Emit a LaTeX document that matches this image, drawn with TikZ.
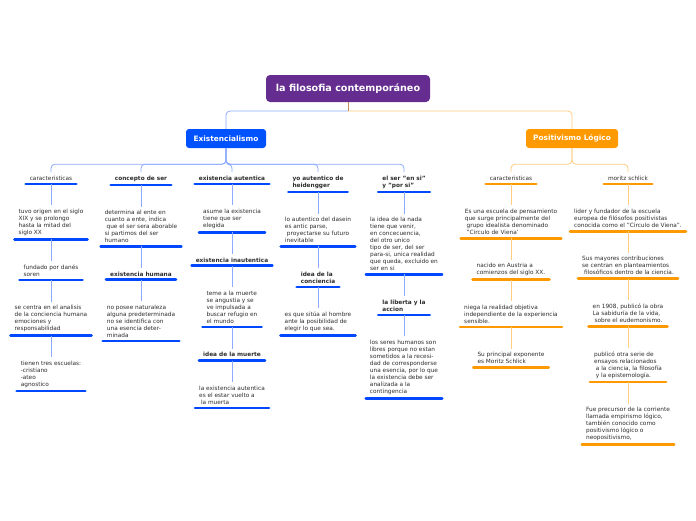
\documentclass[tikz,border=0pt]{standalone}
\usepackage{fontspec}
\setmainfont{DejaVu Sans}
\usetikzlibrary{positioning}
\definecolor{rootpurple}{RGB}{102,45,145}
\definecolor{exblue}{RGB}{0,82,255}
\definecolor{barblue}{RGB}{0,72,255}
\definecolor{linkblue}{RGB}{140,170,255}
\definecolor{poorange}{RGB}{255,153,0}
\definecolor{linkorange}{RGB}{255,204,128}
\definecolor{stubbrown}{RGB}{196,140,90}
\definecolor{textgray}{RGB}{45,45,45}
\newcommand{\itemfont}{\fontsize{5.8}{7}\selectfont}

\begin{document}
\begin{tikzpicture}[x=1pt,y=-1pt,node distance=21.5pt,
  rootbox/.style={fill=rootpurple,rounded corners=4pt,text=white,
    font=\fontsize{9.6}{11}\selectfont\bfseries,minimum width=164pt,minimum height=27pt},
  mainbox/.style={rounded corners=3pt,text=white,
    font=\fontsize{7.4}{8}\selectfont\bfseries,minimum height=19pt},
  item/.style={font=\itemfont,align=left,text=textgray,inner xsep=4pt,inner ysep=3.5pt},
  bitem/.style={item,append after command={(\tikzlastnode.south west)
    edge[draw=barblue,line width=2.6pt,line cap=round] (\tikzlastnode.south east)}},
  oitem/.style={item,append after command={(\tikzlastnode.south west)
    edge[draw=poorange,line width=2.6pt,line cap=round] (\tikzlastnode.south east)}},
  blink/.style={draw=linkblue,line width=0.8pt,rounded corners=4pt},
  olink/.style={draw=linkorange,line width=0.8pt,rounded corners=4pt}]
\useasboundingbox (0,0) rectangle (696,520);

% top level
\node[rootbox] (root) at (348,88.5) {la filosofia contemporáneo};
\node[mainbox,fill=exblue,minimum width=80pt] (exist) at (226,138.5) {Existencialismo};
\node[mainbox,fill=poorange,minimum width=92pt] (posit) at (572,138.5) {Positivismo Lógico};
\coordinate (fork) at (348,111);
\draw[blink] (fork) -| (exist.north);
\draw[olink] (fork) -| (posit.north);
\draw[draw=stubbrown,line width=0.8pt] (root.south) -- (fork);

% Existencialismo
\node[bitem,anchor=north] (bcar) at (51,172) {caracteristicas};
\node[bitem,below=of bcar] (b1a) {tuvo origen en el siglo\\XIX y se prolongo\\hasta la mitad del\\siglo XX};
\node[bitem,below=of b1a] (b1b) {fundado por danés\\soren};
\node[bitem,below=of b1b] (b1c) {se centra en el analisis\\de la conciencia humana\\emociones y\\responsabilidad};
\node[bitem,below=of b1c] (b1d) {tienen tres escuelas:\\-cristiano\\-ateo\\agnostico};

\node[bitem,anchor=north,font=\itemfont\bfseries] (bcon) at (141,172) {concepto de ser};
\node[bitem,below=of bcon] (b2a) {determina al ente en\\cuanto a ente, indica\\\ que el ser sera aborable\\si partimos del ser\\humano};
\node[bitem,below=of b2a,font=\itemfont\bfseries] (b2b) {existencia humana};
\node[bitem,below=of b2b] (b2c) {no posee naturaleza\\alguna predeterminada\\no se identifica con\\una esencia deter-\\minada};

\node[bitem,anchor=north,font=\itemfont\bfseries] (baut) at (232,172) {existencia autentica};
\node[bitem,below=of baut] (b3a) {asume la existencia\\tiene que ser\\elegida};
\node[bitem,below=of b3a,font=\itemfont\bfseries] (b3b) {existencia inautentica};
\node[bitem,below=of b3b] (b3c) {teme a la muerte\\se angustia y se\\ve impulsada a\\buscar refugio en\\el mundo};
\node[bitem,below=of b3c,font=\itemfont\bfseries] (b3d) {idea de la muerte};
\node[bitem,below=of b3d] (b3e) {la existencia autentica\\es el estar vuelto a\\\ la muerta};

\node[bitem,anchor=north,font=\itemfont\bfseries] (byo) at (318,172) {yo autentico de\\heidengger};
\node[bitem,below=of byo] (b4a) {lo autentico del dasein\\es antic parse,\\\ proyectarse su futuro\\inevitable};
\node[bitem,below=of b4a,font=\itemfont\bfseries] (b4b) {idea de la\\conciencia};
\node[bitem,below=of b4b] (b4c) {es que sitúa al hombre\\ante la posibilidad de\\elegir lo que sea.};

\node[bitem,anchor=north,font=\itemfont\bfseries] (bser) at (404,172) {el ser "en si"\\y "por si"};
\node[bitem,below=of bser] (b5a) {la idea de la nada\\tiene que venir,\\en concecuencia,\\del otro unico\\tipo de ser, del ser\\para-si, unica realidad\\que queda, excluido en\\ser en si};
\node[bitem,below=of b5a,font=\itemfont\bfseries] (b5b) {la liberta y la\\accion};
\node[bitem,below=of b5b] (b5c) {los seres humanos son\\libres porque no estan\\sometidos a la recesi-\\dad de corresponderse\\una esencia, por lo que\\la existencia debe ser\\analizada a la\\contingencia};

% Positivismo
\node[oitem,anchor=north] (ocar) at (511,172) {caracteristicas};
\node[oitem,below=of ocar] (o1a) {Es una escuela de pensamiento\\que surge principalmente del\\\ grupo idealista denominado\\\ "Circulo de Viena'};
\node[oitem,below=of o1a] (o1b) {nacido en Austria a\\comienzos del siglo XX.};
\node[oitem,below=of o1b] (o1c) {niega la realidad objetiva\\independiente de la experiencia\\sensible.};
\node[oitem,below=of o1c] (o1d) {Su principal exponente\\es Moritz Schlick};

\node[oitem,anchor=north] (omor) at (628,172) {moritz schlick};
\node[oitem,below=of omor] (o2a) {lider y fundador de la escuela\\europea de filósofos positivistas\\conocida como el "Circulo de Viena".};
\node[oitem,below=of o2a] (o2b) {Sus mayores contribuciones\\se centran en planteamientos\\\ filosóficos dentro de la ciencia.};
\node[oitem,below=of o2b] (o2c) {en 1908, publicó la obra\\La sabiduría de la vida,\\\ sobre el eudemonismo.};
\node[oitem,below=of o2c] (o2d) {publicó otra serie de\\ensayos relacionados\\\ a la ciencia, la filosofía\\\ y la epistemología.};
\node[oitem,below=of o2d] (o2e) {Fue precursor de la corriente\\llamada empirismo lógico,\\también conocido como\\positivismo lógico o\\neopositivismo,};

% connectors
\foreach \t in {bcar,bcon,baut,byo,bser}
  \draw[blink] (exist.south) -- ++(0,16) -| (\t.north);
\foreach \t in {ocar,omor}
  \draw[olink] (posit.south) -- ++(0,16) -| (\t.north);
\foreach \a/\b in {bcar/b1a,b1a/b1b,b1b/b1c,b1c/b1d,bcon/b2a,b2a/b2b,b2b/b2c,
  baut/b3a,b3a/b3b,b3b/b3c,b3c/b3d,b3d/b3e,byo/b4a,b4a/b4b,b4b/b4c,
  bser/b5a,b5a/b5b,b5b/b5c}
  \draw[blink] (\a.south) -- (\b.north);
\foreach \a/\b in {ocar/o1a,o1a/o1b,o1b/o1c,o1c/o1d,
  omor/o2a,o2a/o2b,o2b/o2c,o2c/o2d,o2d/o2e}
  \draw[olink] (\a.south) -- (\b.north);
\end{tikzpicture}
\end{document}
